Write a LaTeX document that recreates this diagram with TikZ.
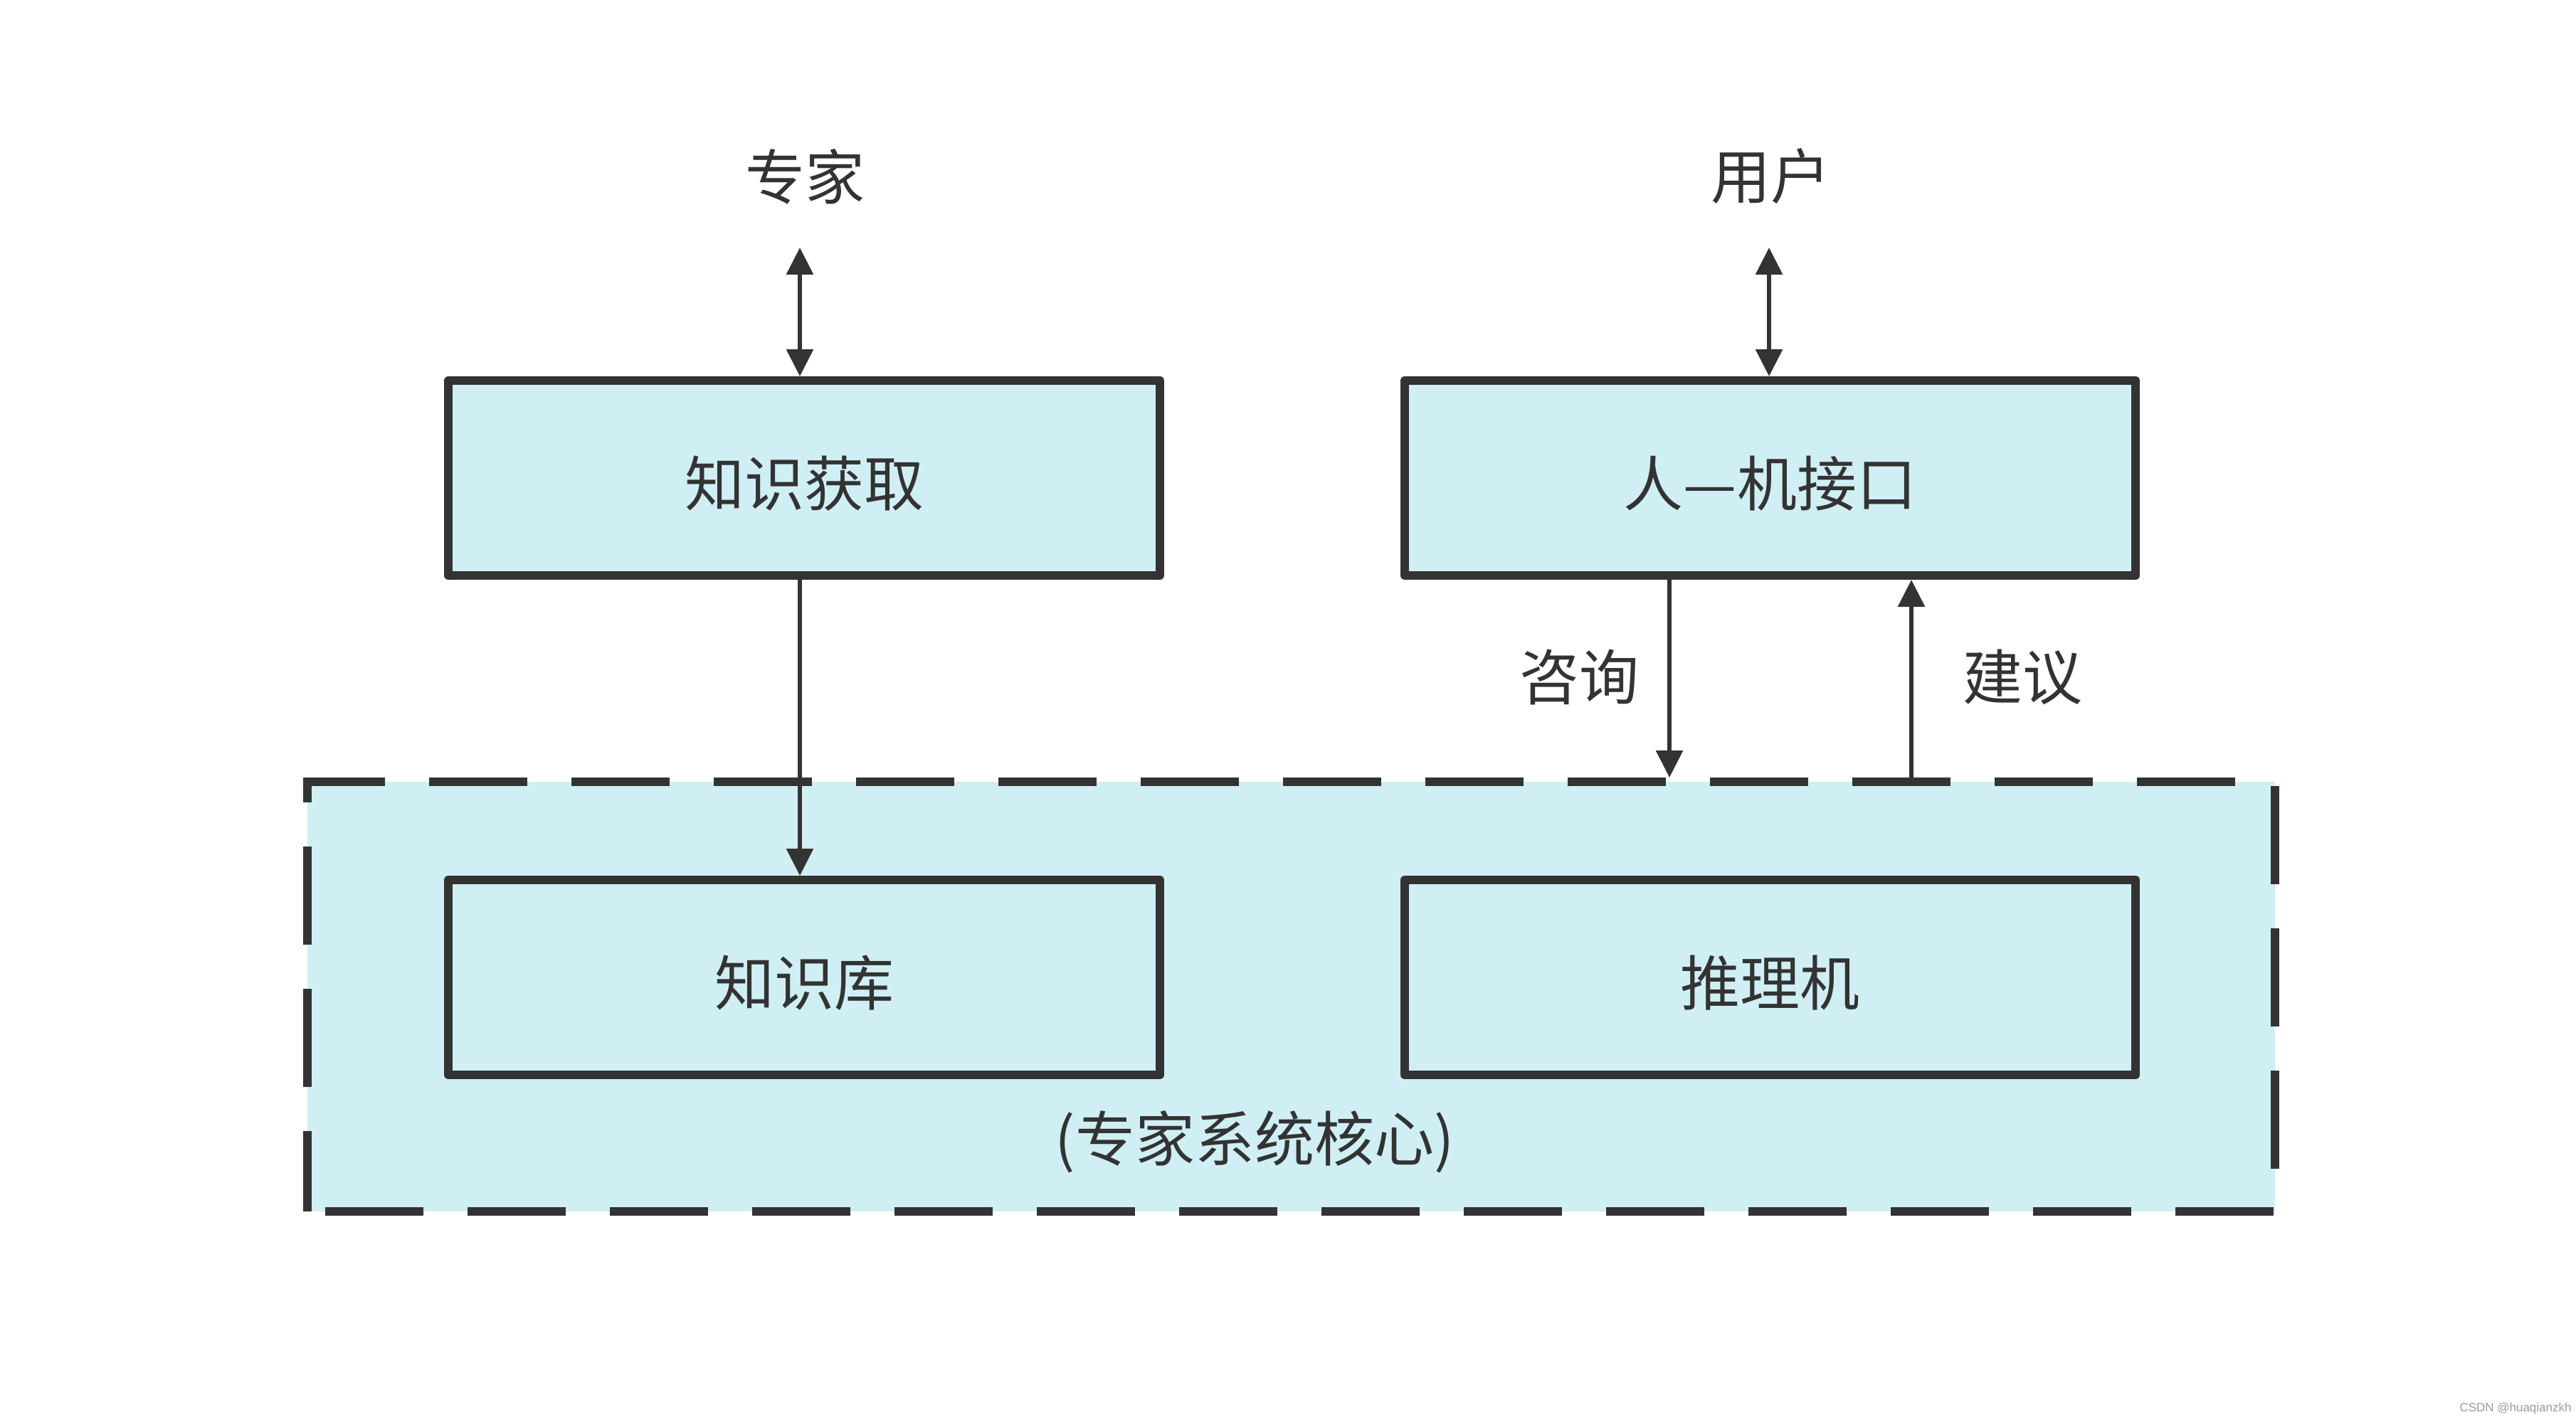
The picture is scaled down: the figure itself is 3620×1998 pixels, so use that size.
\documentclass[tikz,border=0pt]{standalone}
\usepackage{fontspec}
\newfontfamily\cjk{Noto Sans CJK SC}
\newfontfamily\wmfont{Liberation Sans}
\usetikzlibrary{arrows.meta}
\definecolor{ink}{HTML}{333333}
\definecolor{pale}{RGB}{208,239,244}
\definecolor{wmgray}{HTML}{9A9A9A}
\begin{document}
\begin{tikzpicture}[x=0.2pt,y=-0.2pt,
  cjktext/.style={font=\cjk\fontsize{16.8pt}{20pt}\selectfont, text=ink, inner sep=0pt},
  box/.style={cjktext, draw=ink, fill=pale, line width=2.4pt, line join=round,
    minimum height=54.8pt, text height=16.8pt, text depth=1.2pt},
  tip/.tip={Triangle[width=7.4pt,length=7.6pt]},
  arr/.style={draw=ink, line width=1.2pt, -tip},
  arrboth/.style={draw=ink, line width=1.2pt, tip-tip}
]
\useasboundingbox (0,0) rectangle (3620,1998);

% dashed region holding the core of the expert system
\node[draw=ink, fill=pale, line width=2.4pt, dash pattern=on 27.6pt off 12.4pt,
  dash phase=35pt, minimum width=553pt, minimum height=120.8pt, inner sep=0pt]
  (core) at (1814.5,1401) {};
\node[cjktext] (corelabel) at (1763,1605) {(专家系统核心)};

% the four blocks
\node[box, minimum width=199.9pt] (acq)   at (1130,672)   {知识获取};
\node[box, minimum width=205.4pt] (iface) at (2487.5,672) {人—机接口};
\node[box, minimum width=199.9pt] (kb)    at (1130,1374)  {知识库};
\node[box, minimum width=205.4pt] (infer) at (2487.5,1374) {推理机};

% outside actors
\node[cjktext] (expert) at (1131,248) {专家};
\node[cjktext] (user)   at (2488,248) {用户};
\coordinate (experttop) at (1124,348);
\coordinate (usertop)   at (2486,348);

\draw[arrboth] (experttop) -- (experttop |- acq.north);
\draw[arrboth] (usertop) -- (usertop |- iface.north);

% knowledge flow and consultation
\draw[arr] ([xshift=-1.2pt]acq.south) -- ([xshift=-1.2pt]kb.north);
\draw[arr] ([xshift=-28.3pt]iface.south) -- ([xshift=-28.3pt]iface.south |- core.north);
\draw[arr] ([xshift=39.7pt]iface.south |- core.north) -- ([xshift=39.7pt]iface.south);

\node[cjktext] (ask)    at (2219,952) {咨询};
\node[cjktext] (advice) at (2842,952) {建议};

% watermark
\node[font=\wmfont\fontsize{3.4pt}{4pt}\selectfont, text=wmgray, inner sep=0pt]
  (wm) at (3535,1980) {CSDN @huaqianzkh};
\end{tikzpicture}
\end{document}
